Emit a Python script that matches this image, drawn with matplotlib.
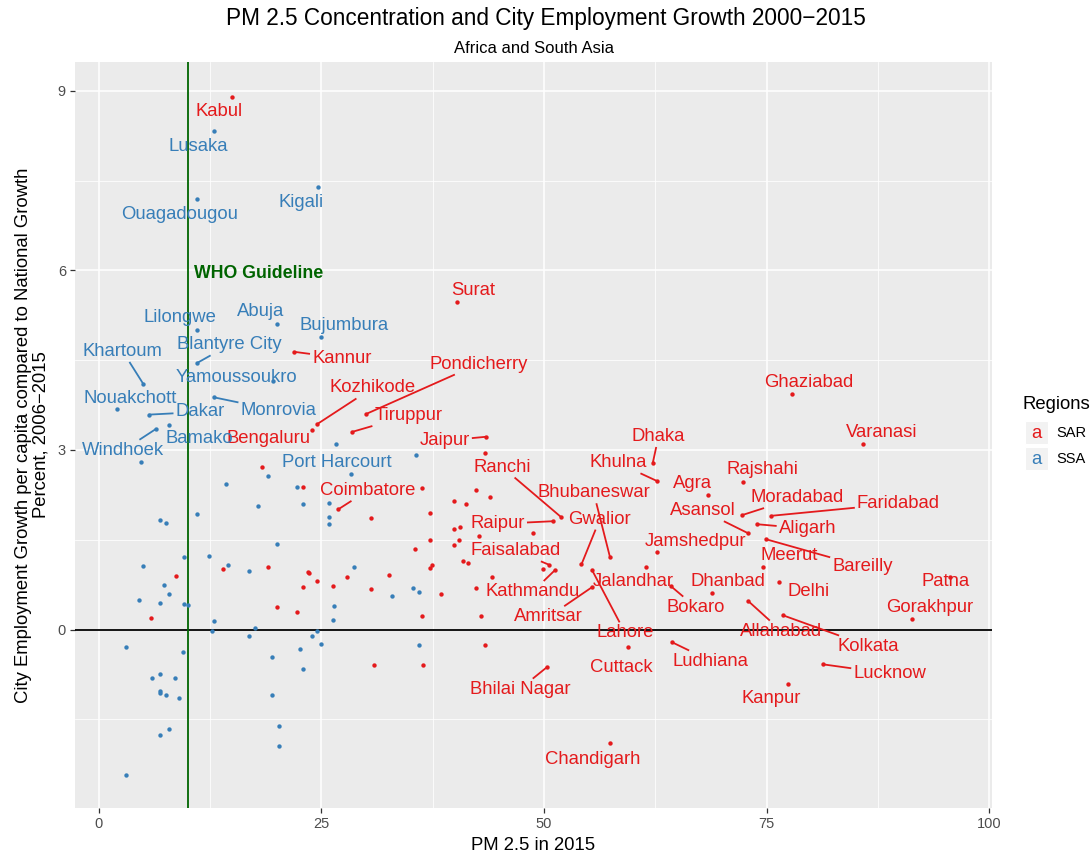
import matplotlib
matplotlib.use("Agg")
import matplotlib.pyplot as plt
from matplotlib.patches import Rectangle

plt.rcParams['font.family'] = ['Liberation Sans', 'DejaVu Sans']
plt.rcParams['axes.unicode_minus'] = True

RED = "#E41A1C"
BLUE = "#377EB8"
WHO_GREEN = "#006400"
WHO_LIMIT = 10

# ---- South Asia (SAR) -------------------------------------------------
sar_city = [
    "Kabul", "Surat", "Kannur", "Pondicherry", "Kozhikode", "Tiruppur",
    "Bengaluru", "Jaipur", "Coimbatore", "Ranchi", "Raipur", "Gwalior",
    "Bhubaneswar", "Jalandhar", "Jamshedpur", "Lahore", "Amritsar",
    "Faisalabad", "Kathmandu", "Bhilai Nagar", "Chandigarh", "Cuttack",
    "Ludhiana", "Dhaka", "Khulna", "Agra", "Rajshahi", "Moradabad",
    "Asansol", "Faridabad", "Aligarh", "Bareilly", "Meerut", "Delhi",
    "Dhanbad", "Bokaro", "Allahabad", "Kolkata", "Lucknow", "Kanpur",
    "Ghaziabad", "Varanasi", "Patna", "Gorakhpur",
] + [""] * 45
sar_pm25 = [
    14.9, 40.2, 21.9, 30.0, 24.5, 28.4,
    23.9, 43.45, 26.9, 51.9, 51.0, 54.2,
    57.4, 61.5, 62.7, 55.4, 55.4,
    50.6, 51.2, 50.3, 57.4, 59.4,
    64.35, 62.2, 62.7, 68.4, 72.3, 72.2,
    72.9, 75.5, 73.9, 74.9, 74.6, 76.4,
    68.9, 64.2, 72.9, 76.8, 81.3, 77.4,
    77.8, 85.8, 95.6, 91.3,
    # cities without a label
    8.7, 5.9, 13.9, 19.0, 20.0, 22.2, 22.9, 23.5, 23.6, 24.5, 26.3, 27.9,
    18.3, 22.9, 36.3, 42.3, 43.9, 39.9, 41.2, 30.6, 37.2, 39.9, 40.6,
    42.7, 48.8, 37.2, 35.5, 39.9, 40.4, 40.9, 41.5, 37.2, 37.4, 44.2,
    42.4, 38.4, 36.3, 42.9, 43.4, 30.9, 36.4, 30.6, 32.6, 49.9, 43.4,
]
sar_growth = [
    8.90, 5.47, 4.64, 3.60, 3.43, 3.30,
    3.33, 3.22, 2.01, 1.88, 1.81, 1.09,
    1.21, 1.04, 1.29, 0.99, 0.71,
    1.08, 0.99, -0.63, -1.90, -0.29,
    -0.21, 2.78, 2.48, 2.25, 2.46, 1.91,
    1.61, 1.90, 1.76, 1.51, 1.04, 0.79,
    0.61, 0.73, 0.48, 0.24, -0.58, -0.91,
    3.93, 3.10, 0.88, 0.18,
    0.89, 0.19, 1.01, 1.04, 0.38, 0.29, 0.71, 0.96, 0.94, 0.81, 0.73, 0.88,
    2.72, 2.38, 2.36, 2.33, 2.21, 2.14, 2.09, 1.86, 1.95, 1.68, 1.71,
    1.56, 1.61, 1.50, 1.35, 1.41, 1.50, 1.14, 1.11, 1.03, 1.08, 0.88,
    0.69, 0.59, 0.23, 0.23, -0.26, -0.59, -0.59, 0.68, 0.91, 1.01, 2.95,
]

# ---- Sub-Saharan Africa (SSA) -----------------------------------------
ssa_city = [
    "Lusaka", "Ouagadougou", "Kigali", "Lilongwe", "Abuja", "Bujumbura",
    "Blantyre City", "Yamoussoukro", "Khartoum", "Nouakchott", "Monrovia",
    "Dakar", "Windhoek", "Bamako", "Port Harcourt",
] + [""] * 57
ssa_pm25 = [
    12.9, 11.0, 24.6, 11.0, 20.0, 24.9,
    11.0, 19.6, 5.0, 2.0, 12.9,
    5.6, 6.4, 7.9, 28.3,
    4.7, 26.6, 35.6, 14.3, 19.0, 17.9, 22.3, 22.9, 25.9, 25.9, 25.9,
    11.0, 6.9, 7.5, 20.0, 9.6, 12.4, 14.5, 5.0, 16.9, 28.6, 7.3, 7.9,
    4.5, 6.9, 9.6, 10.0, 26.4, 26.3, 12.9, 12.7, 17.5, 16.9, 24.5, 23.9,
    24.9, 22.6, 19.4, 22.9, 3.0, 9.4, 6.0, 6.9, 8.5, 6.9, 6.9, 7.5, 9.0,
    19.4, 20.2, 20.2, 6.9, 7.9, 3.0, 35.3, 35.9, 32.9, 35.9,
]
ssa_growth = [
    8.33, 7.19, 7.39, 5.01, 5.10, 4.89,
    4.45, 4.15, 4.10, 3.68, 3.88,
    3.59, 3.35, 3.42, 2.60,
    2.80, 3.10, 2.91, 2.43, 2.56, 2.06, 2.38, 2.10, 2.11, 1.88, 1.76,
    1.93, 1.83, 1.78, 1.43, 1.21, 1.23, 1.08, 1.06, 0.98, 1.04, 0.74, 0.59,
    0.49, 0.44, 0.43, 0.41, 0.39, 0.16, 0.14, -0.03, 0.03, -0.11, -0.03, -0.11,
    -0.24, -0.33, -0.46, -0.66, -0.29, -0.38, -0.81, -0.74, -0.81, -1.03, -1.06, -1.09, -1.14,
    -1.09, -1.61, -1.95, -1.76, -1.66, -2.43, 0.69, 0.63, 0.56, -0.26,
]

# repelled label anchors (centre x, baseline y) in data units
label_xy = {
    "Kabul": (13.45, 8.58), "Lusaka": (11.12, 8.00), "Ouagadougou": (9.03, 6.85),
    "Kigali": (22.66, 7.06), "Lilongwe": (9.10, 5.14), "Abuja": (18.13, 5.24),
    "Bujumbura": (27.49, 5.00), "Blantyre City": (14.65, 4.68),
    "Kannur": (27.27, 4.46), "Khartoum": (2.69, 4.57),
    "Yamoussoukro": (15.44, 4.14), "Nouakchott": (3.48, 3.79),
    "Monrovia": (20.16, 3.58), "Dakar": (11.37, 3.56), "Bamako": (11.26, 3.11),
    "Windhoek": (2.75, 2.92), "Bengaluru": (19.07, 3.12),
    "Port Harcourt": (26.71, 2.71), "Kozhikode": (30.73, 3.96),
    "Pondicherry": (42.63, 4.36), "Tiruppur": (34.76, 3.50),
    "Surat": (41.99, 5.58), "Jaipur": (38.84, 3.08), "Ranchi": (45.30, 2.64),
    "Coimbatore": (30.21, 2.25), "Raipur": (44.80, 1.69),
    "Faisalabad": (46.82, 1.24), "Kathmandu": (48.73, 0.56),
    "Amritsar": (50.53, 0.14), "Bhubaneswar": (55.57, 2.21),
    "Gwalior": (56.26, 1.77), "Jalandhar": (60.04, 0.72),
    "Lahore": (59.10, -0.13), "Bhilai Nagar": (47.27, -1.07),
    "Chandigarh": (55.47, -2.24), "Cuttack": (58.67, -0.71),
    "Ludhiana": (68.73, -0.60), "Kanpur": (75.55, -1.23),
    "Lucknow": (88.81, -0.81), "Kolkata": (86.40, -0.35),
    "Allahabad": (76.65, -0.10), "Gorakhpur": (93.30, 0.30),
    "Patna": (95.06, 0.73), "Delhi": (79.69, 0.56), "Dhanbad": (70.67, 0.72),
    "Bokaro": (67.02, 0.30), "Bareilly": (85.75, 0.98), "Meerut": (77.49, 1.17),
    "Jamshedpur": (67.02, 1.40), "Aligarh": (79.57, 1.61),
    "Asansol": (67.81, 1.91), "Moradabad": (78.36, 2.13),
    "Faridabad": (89.78, 2.03), "Agra": (66.62, 2.37), "Rajshahi": (74.52, 2.60),
    "Khulna": (58.28, 2.71), "Dhaka": (62.85, 3.15),
    "Ghaziabad": (79.71, 4.06), "Varanasi": (87.94, 3.22),
}
with_leader = {
    "Kannur", "Pondicherry", "Kozhikode", "Tiruppur", "Coimbatore", "Jaipur",
    "Ranchi", "Raipur", "Gwalior", "Bhubaneswar", "Lahore", "Amritsar",
    "Faisalabad", "Kathmandu", "Bhilai Nagar", "Khartoum", "Blantyre City",
    "Monrovia", "Dakar", "Windhoek", "Dhaka", "Khulna", "Moradabad",
    "Asansol", "Faridabad", "Aligarh", "Bareilly", "Bokaro", "Allahabad",
    "Kolkata", "Lucknow", "Ludhiana",
}

W, H = 1092, 856
fig = plt.figure(figsize=(W / 100, H / 100), dpi=100)
ax = fig.add_axes([75 / W, 48 / H, 917 / W, 746 / H])
ax.set_facecolor("#EBEBEB")
for s in ax.spines.values():
    s.set_visible(False)

ax.set_xlim(-2.68, 100.3)
ax.set_ylim(-2.98, 9.48)
ax.set_xticks([0, 25, 50, 75, 100])
ax.set_xticks([12.5, 37.5, 62.5, 87.5], minor=True)
ax.set_yticks([0, 3, 6, 9])
ax.set_yticks([-1.5, 1.5, 4.5, 7.5], minor=True)
ax.grid(which="major", color="white", lw=1.1)
ax.grid(which="minor", color="white", lw=0.55)
ax.set_axisbelow(True)
ax.tick_params(which="major", length=3.5, width=0.9, color="#333333",
               labelcolor="#4D4D4D", labelsize=10.5, pad=3)
ax.tick_params(which="minor", length=0)

ax.axhline(0, color="black", lw=1.3, zorder=2)
ax.axvline(WHO_LIMIT, color=WHO_GREEN, lw=1.3, zorder=2)
ax.text(10.67, 5.88, "WHO Guideline", color=WHO_GREEN, fontsize=12.8,
        fontweight="bold", ha="left", va="baseline", zorder=3)

ax.scatter(sar_pm25, sar_growth, s=10, color=RED, lw=0, zorder=4)
ax.scatter(ssa_pm25, ssa_growth, s=10, color=BLUE, lw=0, zorder=4)

texts = []
for names, xs, ys, col in ((sar_city, sar_pm25, sar_growth, RED),
                           (ssa_city, ssa_pm25, ssa_growth, BLUE)):
    for name, x, y in zip(names, xs, ys):
        if not name:
            continue
        lx, ly = label_xy[name]
        t = ax.text(lx, ly, name, color=col, fontsize=13.3, ha="center",
                    va="baseline", zorder=5)
        texts.append((t, name, x, y, col))

# leader segments from each point to the edge of its label box
fig.canvas.draw()
renderer = fig.canvas.get_renderer()
inv = ax.transData.inverted()
for t, name, x, y, col in texts:
    if name not in with_leader:
        continue
    bb = t.get_window_extent(renderer)
    x0, y0, x1, y1 = bb.x0 - 2, bb.y0 - 2, bb.x1 + 2, bb.y1 + 2
    px, py = ax.transData.transform((x, y))
    cx, cy = (x0 + x1) / 2, (y0 + y1) / 2
    tx = ty = 0.0
    if px < x0:
        tx = (x0 - px) / (cx - px)
    elif px > x1:
        tx = (x1 - px) / (cx - px)
    if py < y0:
        ty = (y0 - py) / (cy - py)
    elif py > y1:
        ty = (y1 - py) / (cy - py)
    tt = max(tx, ty)
    ex, ey = px + tt * (cx - px), py + tt * (cy - py)
    (dx, dy) = inv.transform((ex, ey))
    ax.plot([x, dx], [y, dy], color=col, lw=1.3, zorder=3,
            solid_capstyle="butt")

ax.set_xlabel("PM 2.5 in 2015", fontsize=13.3, labelpad=4)
ax.set_ylabel("City Employment Growth per capita compared to National Growth\n"
              "Percent, 2006\u22122015", fontsize=13.3, labelpad=6,
              linespacing=1.0)

fig.text(546 / W, 1 - 25 / H,
         "PM 2.5 Concentration and City Employment Growth 2000\u22122015",
         ha="center", va="baseline", fontsize=16.3)
fig.text(534 / W, 1 - 53 / H, "Africa and South Asia", ha="center",
         va="baseline", fontsize=12)

# legend
fig.text(1022 / W, 1 - 409 / H, "Regions", ha="left", va="baseline",
         fontsize=13.3)
for i, (lab, col) in enumerate((("SAR", RED), ("SSA", BLUE))):
    top = 421 + i * 26
    fig.patches.append(Rectangle((1025 / W, 1 - (top + 23) / H), 23 / W, 23 / H,
                                 transform=fig.transFigure, facecolor="#F2F2F2",
                                 edgecolor="white", lw=0.8))
    fig.text(1036.5 / W, 1 - (top + 17) / H, "a", color=col, ha="center",
             va="baseline", fontsize=13.3)
    fig.text(1056 / W, 1 - (top + 16) / H, lab, ha="left", va="baseline",
             fontsize=10.5)

fig.savefig("out.png", dpi=100)
